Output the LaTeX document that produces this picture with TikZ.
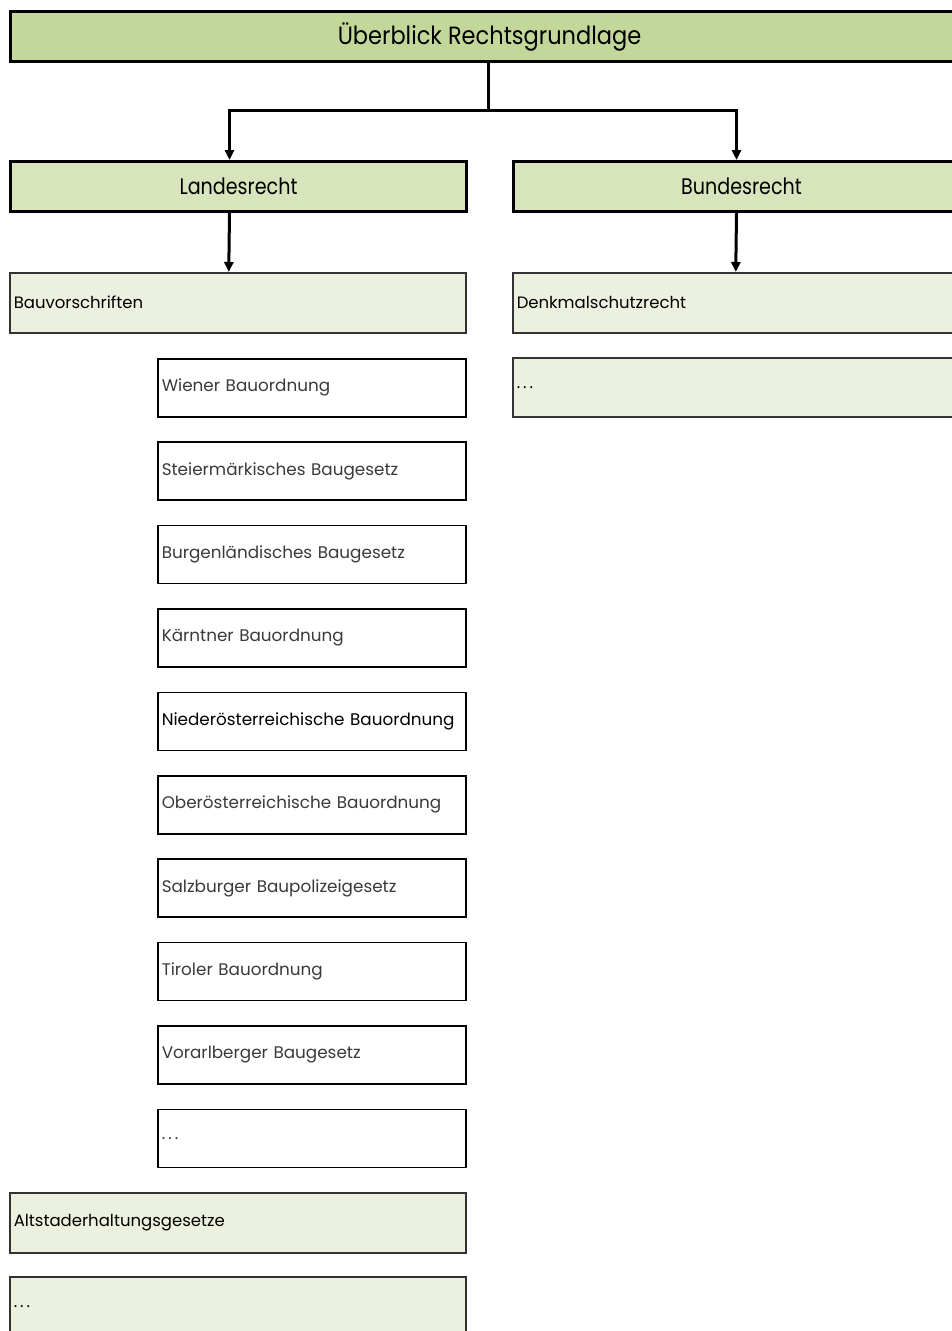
\documentclass[tikz,border=0pt]{standalone}
\usepackage{fontspec}
\setmainfont{Poppins}
\newfontfamily\titlefont[FakeStretch=0.9]{Poppins}
\newfontfamily\headfont[FakeStretch=0.85]{Poppins}
\usetikzlibrary{arrows.meta}
\definecolor{headgreen}{HTML}{C4D79B}
\definecolor{midgreen}{HTML}{D8E4BC}
\definecolor{lightgreen}{HTML}{EBF1DE}
\definecolor{lawtext}{HTML}{3A3A3A}
\newcommand{\more}{.\kern3pt.\kern3pt.}
\tikzset{
  headbox/.style={draw=black, line width=3pt, fill=#1, anchor=north west,
    minimum width=456pt, minimum height=50pt, inner sep=0pt,
    font=\headfont\fontsize{22.5}{26}\selectfont},
  groupbox/.style={draw=black!80, line width=1.5pt, fill=lightgreen, anchor=north west,
    text width=448pt, inner xsep=4pt, inner ysep=0pt, align=left,
    minimum height=60pt, font=\fontsize{16.5}{20}\selectfont},
  lawbox/.style={draw=black, line width=1.5pt, fill=white, anchor=north west,
    text width=300pt, inner xsep=4pt, inner ysep=0pt, align=left,
    minimum height=58pt, text=lawtext, font=\fontsize{16.8}{20}\selectfont},
  arr/.style={line width=3pt, -{Triangle[width=9pt,length=10pt]}}
}
\begin{document}
\begin{tikzpicture}[x=1pt, y=-1pt]
  \clip (0,0) rectangle (952,1331);
  \fill[white] (0,0) rectangle (952,1331);

  \node[headbox=headgreen, minimum width=958pt, font=\titlefont\fontsize{25}{28}\selectfont]
    (overview) at (9,10) {Überblick Rechtsgrundlage};
  \node[headbox=midgreen] (landes) at (9,160) {Landesrecht};
  \node[headbox=midgreen] (bundes) at (512,160) {Bundesrecht};

  \node[groupbox] (bauvor) at (9,272) {Bauvorschriften};
  \node[groupbox] (denkmal) at (512,272) {Denkmalschutzrecht};
  \node[groupbox, minimum height=59pt] (bundesmore) at (512,357) {\more};

  \foreach \name/\law [count=\i from 0] in {
      wien/Wiener Bauordnung,
      stmk/Steiermärkisches Baugesetz,
      bgld/Burgenländisches Baugesetz,
      ktn/Kärntner Bauordnung,
      noe/{\color{black}Niederösterreichische Bauordnung},
      ooe/Oberösterreichische Bauordnung,
      sbg/Salzburger Baupolizeigesetz,
      tirol/Tiroler Bauordnung,
      vbg/Vorarlberger Baugesetz,
      more/\more}
    \node[lawbox] (\name) at (157,{358+83.4*\i}) {\law};

  \node[groupbox] (altstadt) at (9,1192) {Altstaderhaltungsgesetze};
  \node[groupbox] (landesmore) at (9,1276) {\more};

  \coordinate (split) at (488,110);
  \draw[line width=3pt] (overview.south -| split) -- (split);
  \draw[arr] (split) -| ([xshift=-9pt]landes.north);
  \draw[arr] (split) -| ([xshift=-5pt]bundes.north);
  \draw[arr] ([xshift=-9pt]landes.south) -- ([xshift=-9pt]bauvor.north);
  \draw[arr] ([xshift=-5pt]bundes.south) -- ([xshift=-5pt]denkmal.north);
\end{tikzpicture}
\end{document}
